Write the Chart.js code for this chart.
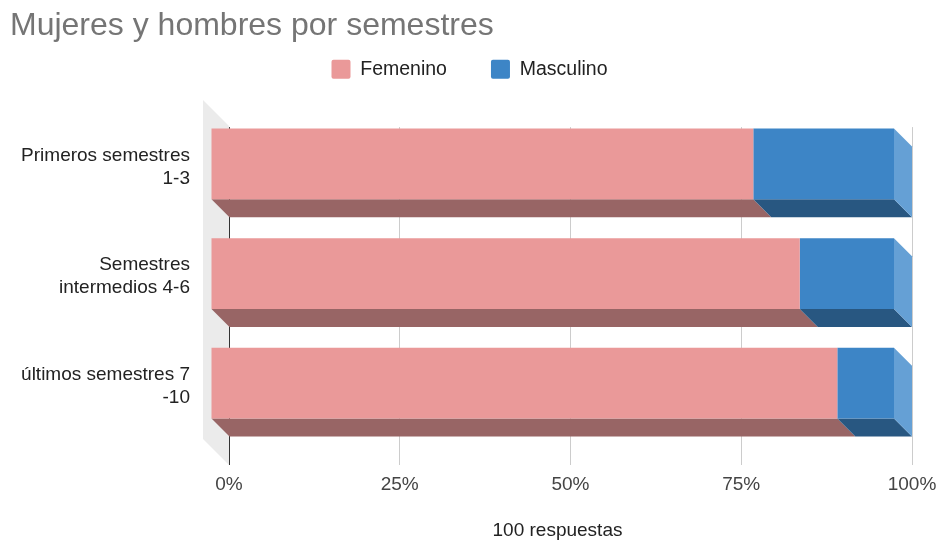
<!DOCTYPE html>
<html>
<head>
<meta charset="utf-8">
<script src="https://cdn.jsdelivr.net/npm/chart.js@4/dist/chart.umd.min.js"></script>
<style>
  html, body { margin: 0; padding: 0; background: #ffffff; }
  #wrap { width: 939px; height: 543px; }
</style>
</head>
<body>
<div id="wrap"><canvas id="c" width="939" height="543"></canvas></div>
<script>
// ---- data ----
const categories = [
  ['Primeros semestres', '1-3'],
  ['Semestres', 'intermedios 4-6'],
  ['últimos semestres 7', '-10']
];
const seriesNames = ['Femenino', 'Masculino'];
const femenino = [79.4, 86.2, 91.7];
const masculino = [20.6, 13.8, 8.3];
const xTickLabels = ['0%', '25%', '50%', '75%', '100%'];
const chartTitle = 'Mujeres y hombres por semestres';
const footerText = '100 respuestas';

// ---- styling ----
const FONT = "'Liberation Sans', Arial, sans-serif";
Chart.defaults.font.family = FONT;
const DEPTH = 18;      // 3D depth of bars
const WALL = 26;       // depth of left wall

const depthPlugin = {
  id: 'depth3d',
  beforeDraw(chart) {
    const { ctx, chartArea: a } = chart;
    ctx.save();
    ctx.fillStyle = '#ebebeb';
    ctx.beginPath();
    ctx.moveTo(a.left, a.top - 1);
    ctx.lineTo(a.left - WALL, a.top - 1 - WALL);
    ctx.lineTo(a.left - WALL, a.bottom + 9 - WALL);
    ctx.lineTo(a.left, a.bottom + 9);
    ctx.closePath();
    ctx.fill();
    ctx.restore();
  },
  beforeDatasetsDraw(chart) {
    const ctx = chart.ctx;
    const n = chart.data.datasets.length;
    ctx.save();
    chart.data.datasets.forEach((ds, di) => {
      const meta = chart.getDatasetMeta(di);
      meta.data.forEach(el => {
        const p = el.getProps(['x', 'y', 'base', 'height'], true);
        const x0 = Math.min(p.x, p.base), x1 = Math.max(p.x, p.base);
        const yt = p.y - p.height / 2, yb = p.y + p.height / 2;
        // bottom face
        ctx.fillStyle = ds.sideColor;
        ctx.beginPath();
        ctx.moveTo(x0 - DEPTH, yb - DEPTH);
        ctx.lineTo(x1 - DEPTH, yb - DEPTH);
        ctx.lineTo(x1, yb);
        ctx.lineTo(x0, yb);
        ctx.closePath();
        ctx.fill();
        // end face for last series
        if (di === n - 1) {
          ctx.fillStyle = ds.endColor;
          ctx.beginPath();
          ctx.moveTo(x1 - DEPTH, yt - DEPTH);
          ctx.lineTo(x1, yt);
          ctx.lineTo(x1, yb);
          ctx.lineTo(x1 - DEPTH, yb - DEPTH);
          ctx.closePath();
          ctx.fill();
        }
      });
    });
    ctx.restore();
    // front faces drawn by Chart.js, shifted toward the viewer
    ctx.save();
    ctx.translate(-DEPTH, -DEPTH);
  },
  afterDatasetsDraw(chart) {
    chart.ctx.restore();
  },
  afterDraw(chart) {
    const { ctx, chartArea: a } = chart;
    ctx.save();
    ctx.font = '19px ' + FONT;
    ctx.fillStyle = '#222222';
    ctx.textAlign = 'center';
    ctx.textBaseline = 'middle';
    ctx.fillText(footerText, (a.left - WALL + a.right) / 2, chart.height - 12);
    ctx.restore();
  }
};

new Chart(document.getElementById('c'), {
  type: 'bar',
  data: {
    labels: categories,
    datasets: [
      { label: seriesNames[0], data: femenino, backgroundColor: '#ea9999', sideColor: '#986565', borderWidth: 0 },
      { label: seriesNames[1], data: masculino, backgroundColor: '#3d85c6', sideColor: '#285781', endColor: '#65a0d5', borderWidth: 0 }
    ]
  },
  options: {
    indexAxis: 'y',
    responsive: false,
    devicePixelRatio: 1,
    animation: false,
    events: [],
    barPercentage: 0.645,
    categoryPercentage: 1.0,
    layout: { padding: { left: 10, right: 10, top: 0, bottom: 0 } },
    plugins: {
      title: {
        display: true,
        text: chartTitle,
        align: 'start',
        color: '#757575',
        font: { size: 32, weight: 'normal' },
        padding: { top: 7, bottom: -29.8 }
      },
      legend: {
        position: 'top',
        align: 'center',
        labels: {
          boxWidth: 19,
          boxHeight: 19,
          padding: 44,
          color: '#222222',
          font: { size: 19.5 },
          useBorderRadius: true,
          borderRadius: 2
        }
      },
      tooltip: { enabled: false }
    },
    scales: {
      x: {
        type: 'linear',
        position: 'bottom',
        stacked: true,
        min: 0,
        max: 100,
        ticks: {
          stepSize: 25,
          autoSkip: false,
          maxRotation: 0,
          color: '#444444',
          font: { size: 19 },
          padding: 8,
          callback: (v, i) => xTickLabels[i]
        },
        grid: {
          color: c => (c.tick && c.tick.value === 0) ? '#333333' : '#cccccc',
          lineWidth: 1,
          drawTicks: true,
          tickLength: 9
        },
        border: { display: false },
        afterFit(s) { s.height = 87; s.paddingRight = 27; }
      },
      xTop: {
        type: 'linear',
        position: 'top',
        display: true,
        grid: { display: false, drawTicks: false },
        border: { display: false },
        ticks: { display: false },
        afterFit(s) { s.height = 38; s.paddingRight = 0; s.paddingLeft = 0; }
      },
      y: {
        stacked: true,
        grid: { display: false, drawTicks: false },
        border: { display: false },
        ticks: {
          color: '#222222',
          font: { size: 19 },
          padding: 39,
          labelOffset: -15
        },
        afterFit(s) { s.width = 219; }
      }
    }
  },
  plugins: [depthPlugin]
});
</script>
</body>
</html>
